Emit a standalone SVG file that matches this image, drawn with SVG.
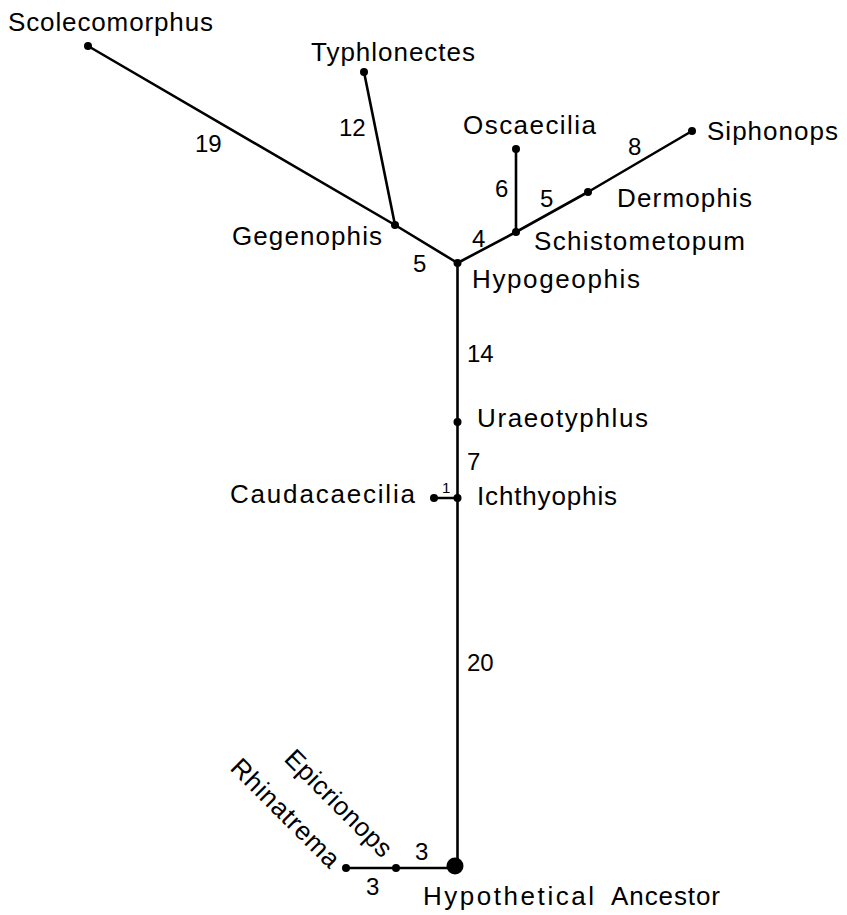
<svg xmlns="http://www.w3.org/2000/svg" width="847" height="915" viewBox="0 0 847 915">
<style>
.e{stroke:#000;stroke-width:2.6;fill:none;stroke-linecap:round;stroke-linejoin:round}
.d{fill:#000}
text{font-family:"Liberation Sans",Arial,sans-serif;font-size:26px;fill:#000}
.n{font-size:24px}
.s{font-size:15px}
</style>
<rect width="847" height="915" fill="#fff"/>
<g id="connectors">
<line class="e" x1="457.5" y1="866" x2="457.5" y2="263"/>
<line class="e" x1="346" y1="868" x2="457.5" y2="868"/>
<line class="e" x1="434" y1="498" x2="457.5" y2="498"/>
<polyline class="e" points="457.5,263 395,225 88,46"/>
<line class="e" x1="395" y1="225" x2="364" y2="72"/>
<polyline class="e" points="457.5,263 516,232 588,192 692,131"/>
<line class="e" x1="516" y1="232" x2="516" y2="149"/>
</g>
<g id="labels-branch">
<text class="n" x="195" y="152">19</text>
<text class="n" x="339" y="136">12</text>
<text class="n" x="413" y="272">5</text>
<text class="n" x="472" y="247">4</text>
<text class="n" x="495" y="197">6</text>
<text class="n" x="540" y="207">5</text>
<text class="n" x="628" y="155">8</text>
<text class="n" x="467" y="362">14</text>
<text class="n" x="467" y="470">7</text>
<text class="s" x="442" y="493">1</text>
<text class="n" x="467" y="671">20</text>
<text class="n" x="415" y="860">3</text>
<text class="n" x="366" y="895">3</text>
</g>
<g id="n-scolecomorphus"><circle class="d" cx="88" cy="46" r="4"/><text x="8" y="31" textLength="205" lengthAdjust="spacing">Scolecomorphus</text></g>
<g id="n-typhlonectes"><circle class="d" cx="364" cy="72" r="4"/><text x="311" y="61" textLength="164" lengthAdjust="spacing">Typhlonectes</text></g>
<g id="n-gegenophis"><circle class="d" cx="395" cy="225" r="4"/><text x="232" y="245" textLength="150" lengthAdjust="spacing">Gegenophis</text></g>
<g id="n-hypogeophis"><circle class="d" cx="457.5" cy="263" r="4"/><text x="472" y="288" textLength="168" lengthAdjust="spacing">Hypogeophis</text></g>
<g id="n-oscaecilia"><circle class="d" cx="516" cy="149" r="4"/><text x="463" y="134" textLength="133" lengthAdjust="spacing">Oscaecilia</text></g>
<g id="n-schistometopum"><circle class="d" cx="516" cy="232" r="4"/><text x="534" y="250" textLength="211" lengthAdjust="spacing">Schistometopum</text></g>
<g id="n-dermophis"><circle class="d" cx="588" cy="192" r="4"/><text x="617" y="207" textLength="135" lengthAdjust="spacing">Dermophis</text></g>
<g id="n-siphonops"><circle class="d" cx="692" cy="131" r="4"/><text x="707" y="140" textLength="131" lengthAdjust="spacing">Siphonops</text></g>
<g id="n-uraeotyphlus"><circle class="d" cx="457.5" cy="422" r="4"/><text x="477" y="427" textLength="171" lengthAdjust="spacing">Uraeotyphlus</text></g>
<g id="n-ichthyophis"><circle class="d" cx="457.5" cy="498" r="4"/><text x="477" y="505" textLength="140" lengthAdjust="spacing">Ichthyophis</text></g>
<g id="n-caudacaecilia"><circle class="d" cx="434" cy="498" r="4"/><text x="230" y="503" textLength="185" lengthAdjust="spacing">Caudacaecilia</text></g>
<g id="n-epicrionops"><circle class="d" cx="396" cy="868" r="4"/><text transform="translate(283,760) rotate(45)" x="0" y="0" textLength="140" lengthAdjust="spacing">Epicrionops</text></g>
<g id="n-rhinatrema"><circle class="d" cx="346" cy="868" r="4"/><text transform="translate(229,769) rotate(45)" x="0" y="0" textLength="142" lengthAdjust="spacing">Rhinatrema</text></g>
<g id="n-ancestor"><circle class="d" cx="455" cy="866" r="8.5"/><text x="423" y="905" textLength="171" lengthAdjust="spacing">Hypothetical</text><text x="611" y="905" textLength="109" lengthAdjust="spacing">Ancestor</text></g>
</svg>
